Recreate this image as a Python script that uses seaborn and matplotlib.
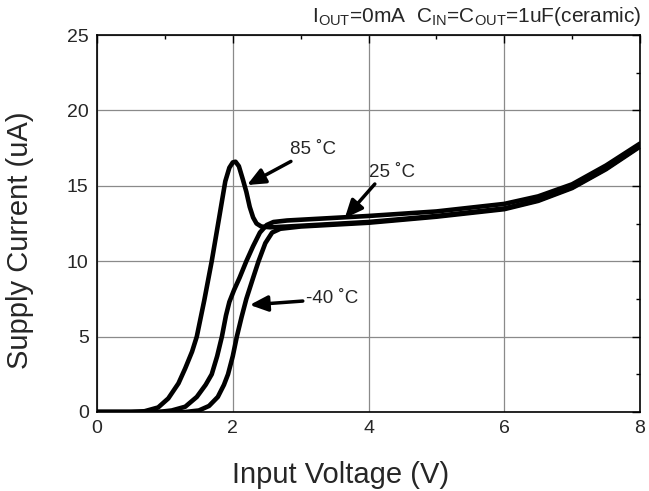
import matplotlib
matplotlib.use("Agg")
import matplotlib.pyplot as plt
import seaborn as sns
import pandas as pd
from matplotlib.ticker import MultipleLocator

sns.set_style("white")
plt.rcParams['font.family'] = ['Liberation Sans', 'DejaVu Sans']

# ---- data ----
x_85 = [0.0, 0.5, 0.7, 0.9, 1.05, 1.2, 1.3, 1.4, 1.47, 1.58, 1.69, 1.8, 1.89, 1.95, 2.0, 2.04,
        2.09, 2.15, 2.2, 2.25, 2.3, 2.35, 2.42, 2.55, 2.8, 3.0, 4.0, 5.0, 6.0, 6.5, 7.0, 7.5, 8.0]
y_85 = [0.0, 0.0, 0.05, 0.3, 0.9, 1.9, 2.9, 4.0, 5.0, 7.4, 10.0, 12.9, 15.3, 16.2, 16.55, 16.6,
        16.3, 15.4, 14.6, 13.6, 12.9, 12.5, 12.3, 12.25, 12.3, 12.35, 12.6, 13.0, 13.5, 14.05, 14.9, 16.15, 17.65]

x_25 = [0.0, 0.9, 1.1, 1.3, 1.47, 1.6, 1.69, 1.77, 1.84, 1.9, 1.95, 2.02, 2.1, 2.2, 2.3, 2.4,
        2.5, 2.6, 2.8, 3.0, 4.0, 5.0, 6.0, 6.5, 7.0, 7.5, 8.0]
y_25 = [0.0, 0.0, 0.1, 0.35, 1.0, 1.8, 2.5, 3.7, 5.0, 6.4, 7.3, 8.1, 8.9, 10.0, 11.0, 11.9,
        12.4, 12.6, 12.7, 12.75, 13.0, 13.3, 13.8, 14.3, 15.1, 16.35, 17.8]

x_m40 = [0.0, 1.3, 1.5, 1.65, 1.78, 1.87, 1.93, 2.0, 2.06, 2.13, 2.2, 2.3, 2.38, 2.48, 2.58,
         2.7, 2.9, 3.0, 4.0, 5.0, 6.0, 6.5, 7.0, 7.5, 8.0]
y_m40 = [0.0, 0.0, 0.1, 0.4, 1.0, 1.8, 2.5, 3.7, 5.0, 6.3, 7.5, 8.9, 10.0, 11.2, 11.9,
         12.15, 12.25, 12.3, 12.55, 12.95, 13.45, 14.0, 14.85, 16.1, 17.6]

x_ticks = [0, 2, 4, 6, 8]
y_ticks = [0, 5, 10, 15, 20, 25]

series = [("85", x_85, y_85), ("25", x_25, y_25), ("-40", x_m40, y_m40)]
frames = [pd.DataFrame({"V": xs, "I": ys, "T": name}) for name, xs, ys in series]
df = pd.concat(frames, ignore_index=True)

fig = plt.figure(figsize=(6.49, 4.91), dpi=100)
ax = fig.add_axes([0.1495, 0.1609, 0.8366, 0.7678])

sns.lineplot(data=df, x="V", y="I", units="T", estimator=None, sort=False,
             color="black", linewidth=3.3, ax=ax, legend=False)

ax.set_xlim(0, 8)
ax.set_ylim(0, 25)
ax.set_xticks(x_ticks)
ax.set_yticks(y_ticks)
ax.xaxis.set_minor_locator(MultipleLocator(1))
ax.yaxis.set_minor_locator(MultipleLocator(2.5))
ax.grid(True, which="major", color="#8a8a8a", linewidth=0.9)
ax.tick_params(which="both", direction="in", top=True, right=True, labelsize=14,
               color="black", width=1.0)
ax.tick_params(which="major", length=6, pad=6)
ax.tick_params(which="minor", length=3)
for s in ax.spines.values():
    s.set_color("black")
    s.set_linewidth(1.2)

ax.set_xlabel("Input Voltage (V)", fontsize=21, labelpad=17)
ax.set_ylabel("Supply Current (uA)", fontsize=21, labelpad=24)
ax.xaxis.label.set_x(0.449)
ax.yaxis.label.set_y(0.456)

arrow = dict(arrowstyle="-|>,head_length=0.8,head_width=0.35", color="black", lw=2.5,
             shrinkA=0, shrinkB=0)
ax.annotate("85 ˚C", xy=(2.21, 15.05), xytext=(2.84, 17.4), fontsize=13.5,
            ha="left", va="center", arrowprops=arrow)
ax.annotate("25 ˚C", xy=(3.65, 12.85), xytext=(4.0, 15.9), fontsize=13.5,
            ha="left", va="center", arrowprops=dict(arrow, relpos=(0.2, 0)))
ax.annotate("-40 ˚C", xy=(2.25, 7.1), xytext=(3.08, 7.5), fontsize=13.5,
            ha="left", va="center", arrowprops=arrow)

fig.text(0.988, 0.966,
         r"I$_{\mathregular{OUT}}$=0mA  C$_{\mathregular{IN}}$=C$_{\mathregular{OUT}}$=1uF(ceramic)",
         ha="right", va="center", fontsize=15)

fig.savefig("out.png", dpi=100)
